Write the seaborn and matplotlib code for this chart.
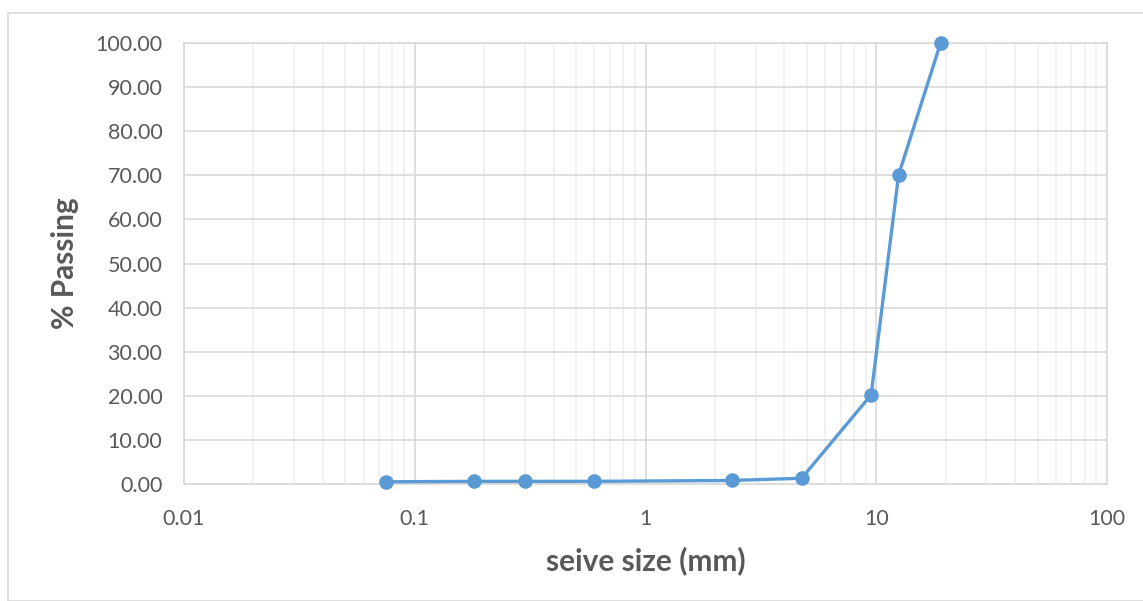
import matplotlib
matplotlib.use("Agg")
import matplotlib.pyplot as plt
import matplotlib.ticker as mticker
from matplotlib.patches import Rectangle
import seaborn as sns
import pandas as pd

sieve_size_mm = [0.075, 0.18, 0.3, 0.6, 2.36, 4.75, 9.5, 12.5, 19.0]
percent_passing = [0.5, 0.6, 0.6, 0.6, 0.8, 1.3, 20.2, 70.1, 100.0]
x_ticks = [0.01, 0.1, 1, 10, 100]
x_tick_labels = ["0.01", "0.1", "1", "10", "100"]
y_ticks = [0, 10, 20, 30, 40, 50, 60, 70, 80, 90, 100]

sns.set_theme(style="white")
plt.rcParams['font.family'] = ['Lato', 'DejaVu Sans']

W, H = 1143, 601
fig = plt.figure(figsize=(W / 100, H / 100), dpi=100)
# outer chart border
fig.patches.append(Rectangle((8 / W, 0), 1.2, 1 - 13 / H, transform=fig.transFigure,
                             fill=False, edgecolor="#d9d9d9", linewidth=1.2))
ax = fig.add_axes([184 / W, 1 - 484 / H, (1107 - 184) / W, (484 - 43) / H])

df = pd.DataFrame({"size": sieve_size_mm, "passing": percent_passing})
sns.lineplot(data=df, x="size", y="passing", ax=ax, color="#5B9BD5", linewidth=2.4,
             marker="o", markersize=10.5, markeredgewidth=0, zorder=5, clip_on=False)

ax.set_xscale("log")
ax.set_xlim(0.01, 100)
ax.set_ylim(0, 100)
ax.set_xticks(x_ticks)
ax.set_xticklabels(x_tick_labels)
ax.xaxis.set_minor_locator(mticker.LogLocator(base=10, subs=range(2, 10), numticks=20))
ax.xaxis.set_minor_formatter(mticker.NullFormatter())
ax.set_yticks(y_ticks)
ax.yaxis.set_major_formatter(mticker.FormatStrFormatter("%.2f"))

ax.grid(True, which="major", axis="both", color="#d9d9d9", linewidth=1.2)
ax.grid(True, which="minor", axis="x", color="#efefef", linewidth=1.2)
ax.set_axisbelow(True)
for s in ax.spines.values():
    s.set_color("#d9d9d9")
    s.set_linewidth(1.2)

ax.tick_params(axis="both", which="both", length=0, labelsize=15.5, labelcolor="#595959")
ax.tick_params(axis="y", pad=15.5)
ax.tick_params(axis="x", pad=18)

ax.set_xlabel("seive size (mm)", fontsize=21.5, fontweight="bold", color="#595959")
ax.set_ylabel("% Passing", fontsize=21.5, fontweight="bold", color="#595959")
ax.xaxis.set_label_coords(0.5, -(546 - 484) / 441)
ax.yaxis.set_label_coords((79 - 184) / 923, 0.5)

fig.savefig("out.png", dpi=100)
